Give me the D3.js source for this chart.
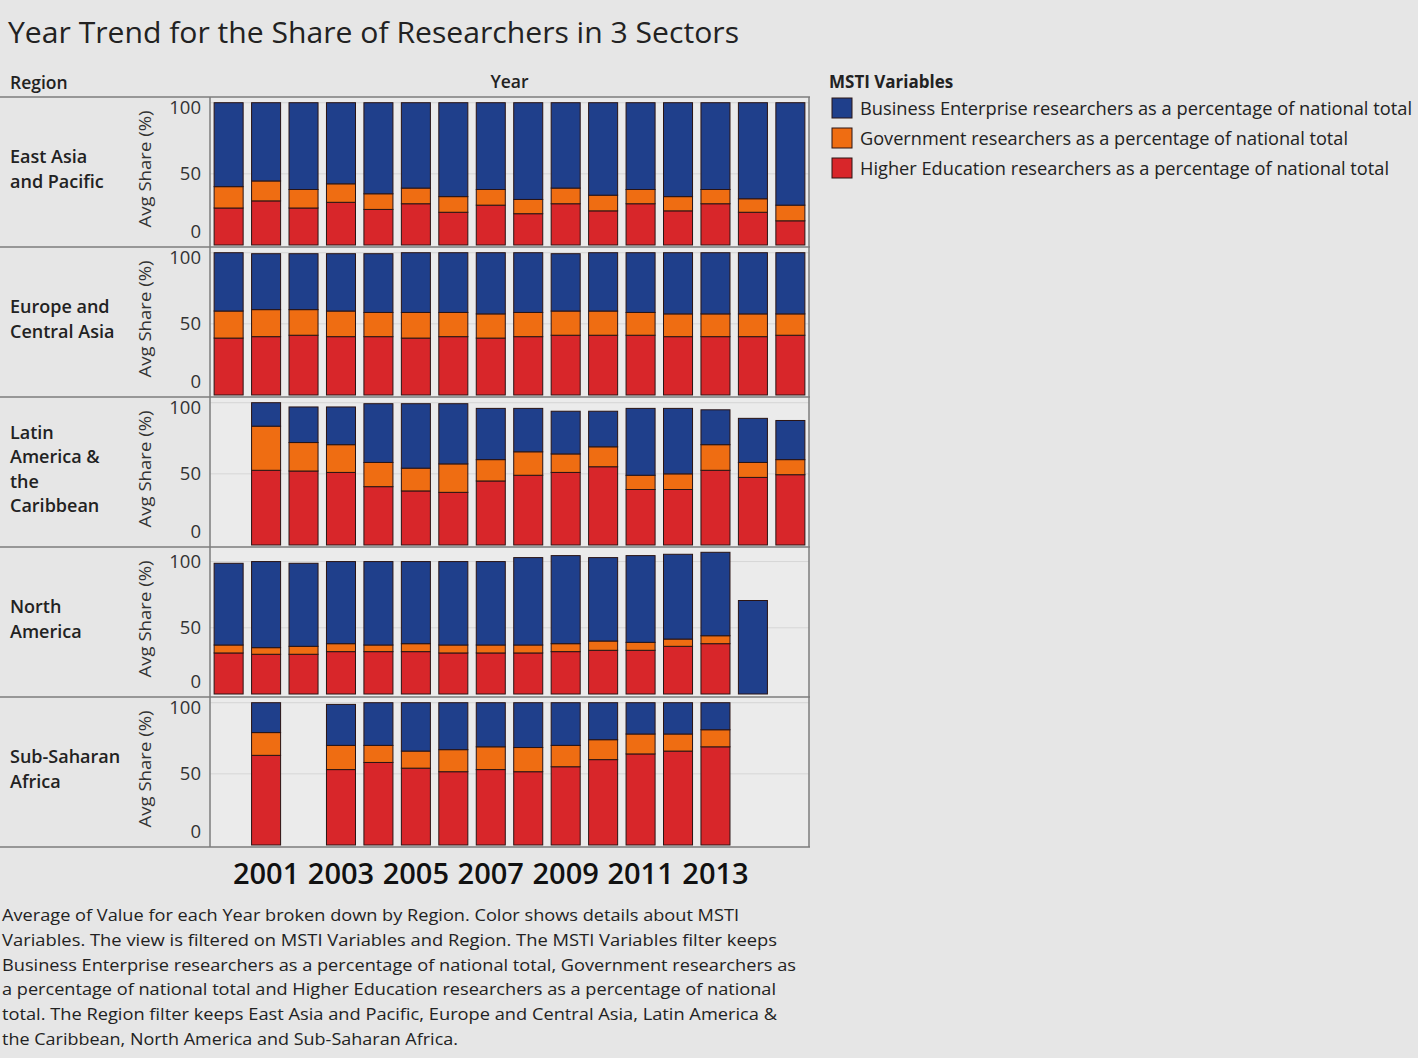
<!DOCTYPE html>
<html>
<head>
<meta charset="utf-8">
<script src="https://cdn.jsdelivr.net/npm/d3@7"></script>
<style>
  html, body { margin: 0; padding: 0; background: #e6e6e6; }
  svg { display: block; font-family: "Open Sans", "Noto Sans", sans-serif; }
</style>
</head>
<body>
<svg id="chart" width="1418" height="1058"></svg>
<script>
// ---------------- DATA ----------------
const years = [2000, 2001, 2002, 2003, 2004, 2005, 2006, 2007, 2008, 2009, 2010, 2011, 2012, 2013, 2014, 2015];
const xTickLabels = [2001, 2003, 2005, 2007, 2009, 2011, 2013];
const yTickValues = [0, 50, 100];

const regions = ["East Asia and Pacific", "Europe and Central Asia", "Latin America & the Caribbean", "North America", "Sub-Saharan Africa"];
const regionLabelLines = [
  ["East Asia", "and Pacific"],
  ["Europe and", "Central Asia"],
  ["Latin", "America &", "the", "Caribbean"],
  ["North", "America"],
  ["Sub-Saharan", "Africa"]
];

const seriesNames = [
  "Business Enterprise researchers as a percentage of national total",
  "Government researchers as a percentage of national total",
  "Higher Education researchers as a percentage of national total"
];

// Higher Education share, per region (rows) and year (columns)
const higherEd = [
  [26, 31, 26, 30, 25, 29, 23, 28, 22, 29, 24, 29, 24, 29, 23, 17],
  [40, 41, 42, 41, 41, 40, 41, 40, 41, 42, 42, 42, 41, 41, 41, 42],
  [null, 52.5, 52, 51, 41, 38, 37, 45, 49, 51, 55, 39, 39, 52.5, 47.5, 49.4],
  [31, 30, 30, 32, 32, 32, 31, 31, 31, 32, 33, 33, 36, 38, null, null],
  [null, 63, null, 53, 58, 54, 51.5, 53, 51.5, 55, 60, 64, 66, 69, null, null]
];
// Government share
const government = [
  [15, 14, 13, 13, 11, 11, 11, 11, 10, 11, 11, 10, 10, 10, 9.5, 11],
  [19, 19, 18, 18, 17, 18, 17, 17, 17, 17, 17, 16, 16, 16, 16, 15],
  [null, 31, 20, 19.5, 17, 16, 20, 15, 16.5, 13, 14, 10, 11, 18, 10.5, 10.6],
  [6, 5, 6, 6, 5, 6, 6, 6, 6, 6, 7, 6, 5.5, 6, null, null],
  [null, 16, null, 17, 12, 12, 15.5, 16, 17, 15, 14, 14, 12, 12, null, null]
];
// Business Enterprise share
const business = [
  [59, 55, 61, 57, 64, 60, 66, 61, 68, 60, 65, 61, 66, 61, 67.5, 72],
  [41, 39.3, 39.3, 40.3, 41.3, 42, 42, 43, 42, 40.3, 41, 42, 43, 43, 43, 43],
  [null, 16.5, 25, 26.5, 41.3, 45.3, 42.3, 36, 30.5, 30, 25, 47, 46, 24.5, 31, 27.5],
  [61.7, 65, 62.7, 62, 63, 62, 63, 63, 66, 66.5, 63, 65.5, 64, 63, 70.6, null],
  [null, 21, null, 28.8, 30, 34, 33, 31, 31.5, 30, 26, 22, 22, 19, null, null]
];

// axis maximum per row (independent axes)
const rowAxisMax = [104, 104, 104, 111, 104];

const footnoteLines = [
  "Average of Value for each Year broken down by Region.  Color shows details about MSTI",
  "Variables. The view is filtered on MSTI Variables and Region. The MSTI Variables filter keeps",
  "Business Enterprise researchers as a percentage of national total, Government researchers as",
  "a percentage of national total and Higher Education researchers as a percentage of national",
  "total. The Region filter keeps East Asia and Pacific, Europe and Central Asia, Latin America &",
  "the Caribbean, North America and Sub-Saharan Africa."
];
const footnoteWidths = [737, 775, 794, 774, 775, 456];

// ---------------- LAYOUT ----------------
const svg = d3.select("#chart");
const colors = {
  [seriesNames[0]]: "#1f3f8b",
  [seriesNames[1]]: "#ef6d12",
  [seriesNames[2]]: "#d8262a"
};
const plotLeft = 210, plotRight = 809;
const rowTop0 = 97, rowH = 150;

svg.append("rect").attr("width", 1418).attr("height", 1058).attr("fill", "#e6e6e6");

// Title
svg.append("text")
  .attr("x", 8).attr("y", 43)
  .attr("font-size", 29).attr("fill", "#222")
  .attr("textLength", 731).attr("lengthAdjust", "spacingAndGlyphs")
  .text("Year Trend for the Share of Researchers in 3 Sectors");

// Headers
svg.append("text").attr("x", 10).attr("y", 89).attr("font-size", 17.5).attr("font-weight", 600).attr("fill", "#222").text("Region");
svg.append("text").attr("x", (plotLeft + plotRight) / 2).attr("y", 88).attr("text-anchor", "middle")
  .attr("font-size", 17.5).attr("font-weight", 600).attr("fill", "#222").text("Year");

const x = d3.scaleBand().domain(years).range([plotLeft, plotRight]).paddingInner(0.225).paddingOuter(0.11);

const stackKeys = [seriesNames[2], seriesNames[1], seriesNames[0]]; // bottom to top

regions.forEach((region, ri) => {
  const top = rowTop0 + ri * rowH;
  const zeroY = top + (ri === 3 ? 147 : 148);
  const y = d3.scaleLinear().domain([0, rowAxisMax[ri]]).range([zeroY, top]);

  // panel background
  svg.append("rect").attr("x", plotLeft).attr("y", top).attr("width", plotRight - plotLeft).attr("height", rowH)
    .attr("fill", "#ebebeb");

  // gridlines
  svg.append("g").selectAll("line").data([50, 100]).join("line")
    .attr("x1", plotLeft).attr("x2", plotRight)
    .attr("y1", d => y(d)).attr("y2", d => y(d))
    .attr("stroke", "#d6d6d6").attr("stroke-width", 1);

  // stacked bars
  const rows = years.map((yr, i) => ({
    year: yr,
    [seriesNames[2]]: higherEd[ri][i],
    [seriesNames[1]]: government[ri][i],
    [seriesNames[0]]: business[ri][i]
  }));
  const stacked = d3.stack().keys(stackKeys).value((d, k) => d[k] == null ? 0 : d[k])(rows);
  const g = svg.append("g");
  stacked.forEach(layer => {
    g.selectAll(null).data(layer.filter(d => d.data[layer.key] != null)).join("rect")
      .attr("x", d => x(d.data.year))
      .attr("width", x.bandwidth())
      .attr("y", d => y(d[1]))
      .attr("height", d => y(d[0]) - y(d[1]))
      .attr("fill", colors[layer.key])
      .attr("stroke", "#2a1414").attr("stroke-width", 1);
  });

  // y axis tick labels (kept inside the pane like Tableau)
  svg.append("g").selectAll("text").data(yTickValues).join("text")
    .attr("x", 201)
    .attr("y", d => Math.min(Math.max(y(d), top + 11), top + 135))
    .attr("dy", "0.35em")
    .attr("text-anchor", "end")
    .attr("font-size", 18.5).attr("fill", "#333")
    .text(d => d);

  // y axis title
  svg.append("text")
    .attr("transform", `translate(151,${top + 72}) rotate(-90)`)
    .attr("text-anchor", "middle")
    .attr("font-size", 17).attr("fill", "#333")
    .attr("textLength", 117).attr("lengthAdjust", "spacingAndGlyphs")
    .text("Avg Share (%)");

  // region label
  const lines = regionLabelLines[ri];
  const cy = top + 72;
  svg.append("g").selectAll("text").data(lines).join("text")
    .attr("x", 10)
    .attr("y", (d, i) => cy + (i - (lines.length - 1) / 2) * 24.5)
    .attr("dy", "0.35em")
    .attr("font-size", 18).attr("font-weight", 600).attr("fill", "#222")
    .text(d => d);
});

// grid frame lines
const frame = svg.append("g").attr("stroke", "#7d7d7d").attr("stroke-width", 1.5);
d3.range(regions.length + 1).forEach(i => {
  const yy = rowTop0 + i * rowH;
  frame.append("line").attr("x1", 0).attr("x2", plotRight + 1).attr("y1", yy).attr("y2", yy);
});
frame.append("line").attr("x1", plotLeft).attr("x2", plotLeft).attr("y1", rowTop0).attr("y2", rowTop0 + rowH * regions.length);
frame.append("line").attr("x1", plotRight).attr("x2", plotRight).attr("y1", rowTop0).attr("y2", rowTop0 + rowH * regions.length);

// x axis labels
svg.append("g").selectAll("text").data(xTickLabels).join("text")
  .attr("x", d => x(d) + x.bandwidth() / 2)
  .attr("y", 884)
  .attr("text-anchor", "middle")
  .attr("font-size", 29).attr("font-weight", 600).attr("fill", "#111")
  .text(d => d);

// legend
svg.append("text").attr("x", 829).attr("y", 88).attr("font-size", 17).attr("font-weight", 700).attr("fill", "#222").text("MSTI Variables");
const legendWidths = [552, 488, 529];
const lg = svg.append("g");
seriesNames.forEach((s, i) => {
  lg.append("rect").attr("x", 832).attr("y", 98 + i * 30).attr("width", 20).attr("height", 20)
    .attr("fill", colors[s]).attr("stroke", "#2a1414").attr("stroke-width", 1);
  lg.append("text").attr("x", 860).attr("y", 115 + i * 30)
    .attr("font-size", 18).attr("fill", "#222")
    .attr("textLength", legendWidths[i]).attr("lengthAdjust", "spacingAndGlyphs")
    .text(s);
});

// footnote
svg.append("g").selectAll("text").data(footnoteLines).join("text")
  .attr("x", 2)
  .attr("y", (d, i) => 921 + i * 24.8)
  .attr("font-size", 17).attr("fill", "#222")
  .attr("textLength", (d, i) => footnoteWidths[i]).attr("lengthAdjust", "spacingAndGlyphs")
  .text(d => d);
</script>
</body>
</html>
